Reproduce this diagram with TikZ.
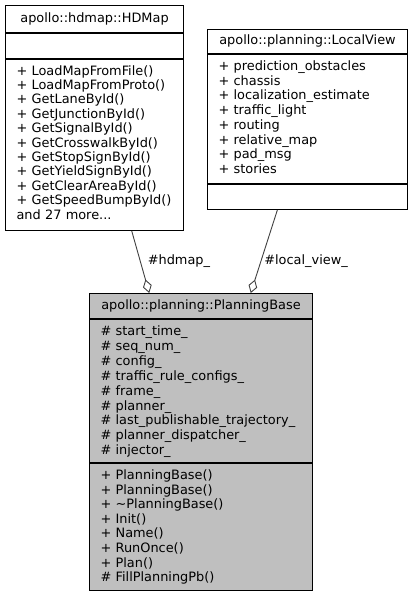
\documentclass[tikz,border=0pt]{standalone}
\usepackage{fontspec}
\setmainfont{DejaVu Sans}
\usetikzlibrary{positioning,calc,arrows.meta}
\definecolor{edgegray}{HTML}{404040}
\definecolor{basefill}{HTML}{BFBFBF}

\begin{document}
\begin{tikzpicture}[x=1pt, y=-1pt,
    head/.style={draw=black, line width=1pt, fill=white, align=center,
        inner sep=0pt, font=\fontsize{12.9}{14.7}\selectfont},
    compart/.style={draw=black, line width=1pt, fill=white, align=left,
        inner xsep=11pt, inner ysep=0pt, text height=16pt},
    aggr/.style={draw=edgegray, line width=0.9pt, {Diamond[open, length=14pt, width=9pt]}-},
    role/.style={anchor=west, inner sep=0pt, font=\fontsize{12.9}{14.7}\selectfont}
]
    \useasboundingbox (0,0) rectangle (413,595);

    % HDMap
    \node[head, minimum width=178pt, minimum height=26.5pt, anchor=north west] (hdmapT) at (5,5) {apollo::hdmap::HDMap};
    \node[compart, text width=156pt, text depth=9pt, below=0pt of hdmapT] (hdmapA) {};
    \node[compart, text width=156pt, text depth=155.5pt, font=\fontsize{12.9}{14.4}\selectfont, below=0pt of hdmapA] (hdmapM) {+~LoadMapFromFile()\\+~LoadMapFromProto()\\+~GetLaneById()\\+~GetJunctionById()\\+~GetSignalById()\\+~GetCrosswalkById()\\+~GetStopSignById()\\+~GetYieldSignById()\\+~GetClearAreaById()\\+~GetSpeedBumpById()\\and~27~more...};

    % LocalView
    \node[head, minimum width=200pt, minimum height=24.5pt, anchor=north west] (viewT) at (207,28.5) {apollo::planning::LocalView};
    \node[compart, text width=178pt, text depth=113pt, font=\fontsize{12.9}{14.7}\selectfont, below=0pt of viewT] (viewA) {+ prediction\_obstacles\\+ chassis\\+ localization\_estimate\\+ traffic\_light\\+ routing\\+ relative\_map\\+ pad\_msg\\+ stories};
    \node[compart, text width=178pt, text depth=9pt, below=0pt of viewA] (viewM) {};

    % PlanningBase
    \node[head, fill=basefill, minimum width=223pt, minimum height=25pt, anchor=north west] (baseT) at (89,293) {apollo::planning::PlanningBase};
    \node[compart, fill=basefill, text width=201pt, text depth=127pt, font=\fontsize{12.9}{14.9}\selectfont, below=0pt of baseT] (baseA) {\# start\_time\_\\\# seq\_num\_\\\# config\_\\\# traffic\_rule\_configs\_\\\# frame\_\\\# planner\_\\\# last\_publishable\_trajectory\_\\\# planner\_dispatcher\_\\\# injector\_};
    \node[compart, fill=basefill, text width=201pt, text depth=111pt, font=\fontsize{12.9}{14.6}\selectfont, below=0pt of baseA] (baseM) {+ PlanningBase()\\+ PlanningBase()\\+ \textasciitilde PlanningBase()\\+ Init()\\+ Name()\\+ RunOnce()\\+ Plan()\\\# FillPlanningPb()};

    \draw[aggr] ($(baseT.north west)!0.269!(baseT.north east)$) -- node[role, pos=0.51, xshift=7pt] {\#hdmap\_} ($(hdmapM.south west)!0.708!(hdmapM.south east)$);
    \draw[aggr] ($(baseT.north west)!0.722!(baseT.north east)$) -- node[role, pos=0.38, xshift=3pt] {\#local\_view\_} ($(viewM.south west)!0.35!(viewM.south east)$);
\end{tikzpicture}
\end{document}
